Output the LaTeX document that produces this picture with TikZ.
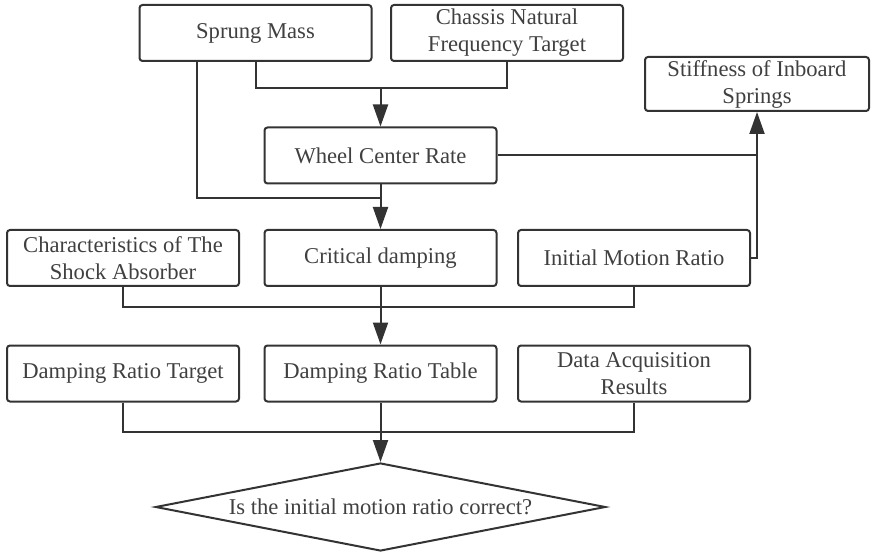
\documentclass[tikz,border=0pt]{standalone}
\usepackage{fontspec}
\setmainfont{LiberationSerif}[Extension=.ttf,UprightFont=*-Regular,BoldFont=*-Bold,ItalicFont=*-Italic]
\usepackage{tikz}
\usetikzlibrary{arrows.meta}
\usetikzlibrary{shapes,positioning}

\begin{document}
\begin{tikzpicture}[x=0.5pt,y=-0.5pt,line width=1pt,color=black!80]
\tikzstyle{block}=[draw,rounded corners=1.5pt,minimum width=116pt,minimum height=28pt,inner sep=1pt,align=center,text=black!75,font=\rmfamily\fontsize{11.3}{13.5}\selectfont]
\tikzstyle{decision}=[diamond,draw,aspect=5,minimum width=225pt,minimum height=44pt,inner sep=0pt,text=black!75,font=\rmfamily\fontsize{11.3}{13.5}\selectfont]
\tikzstyle{flow}=[-{Triangle[length=11pt,width=7.5pt]}]
\useasboundingbox (0,0) rectangle (871,555);

% top row
\node [block] (sm) at (255.5,33) {Sprung Mass};
\node [block] (cnf) at (507,33) {Chassis Natural\\Frequency Target};
\node [block,minimum width=112pt,minimum height=27pt] (sis) at (757,84) {Stiffness of Inboard\\Springs};
\node [block] (wcr) at (380.5,155.5) {Wheel Center Rate};

% middle row
\node [block] (csa) at (123,258) {Characteristics of The\\Shock Absorber};
\node [block] (cd) at (380.5,258) {Critical damping};
\node [block] (imr) at (634,258) {Initial Motion Ratio};

% bottom row
\node [block] (drt) at (123,373.5) {Damping Ratio Target};
\node [block] (drtab) at (380.5,373.5) {Damping Ratio Table};
\node [block] (dar) at (634,373.5) {Data Acquisition\\Results};

\node [decision] (q) at (380.5,507) {Is the initial motion ratio correct?};

% joints
\coordinate (j1) at (380.5,88);
\coordinate (j2) at (380.5,198);
\coordinate (j3) at (380.5,307);
\coordinate (j4) at (380.5,432);

\draw (sm.south) |- (j1) -| (cnf.south);
\draw [flow] (j1) -- (wcr.north);
\draw ([xshift=29pt]sm.south west) |- (j2);
\draw [flow] (wcr.south) -- (cd.north);
\draw (wcr.east) -- (wcr.east -| sis.south);
\draw [flow] (imr.east) -| (sis.south);

\draw (csa.south) |- (j3) -| (imr.south);
\draw [flow] (cd.south) -- (drtab.north);

\draw (drt.south) |- (j4) -| (dar.south);
\draw [flow] (drtab.south) -- (q.north);
\end{tikzpicture}
\end{document}
